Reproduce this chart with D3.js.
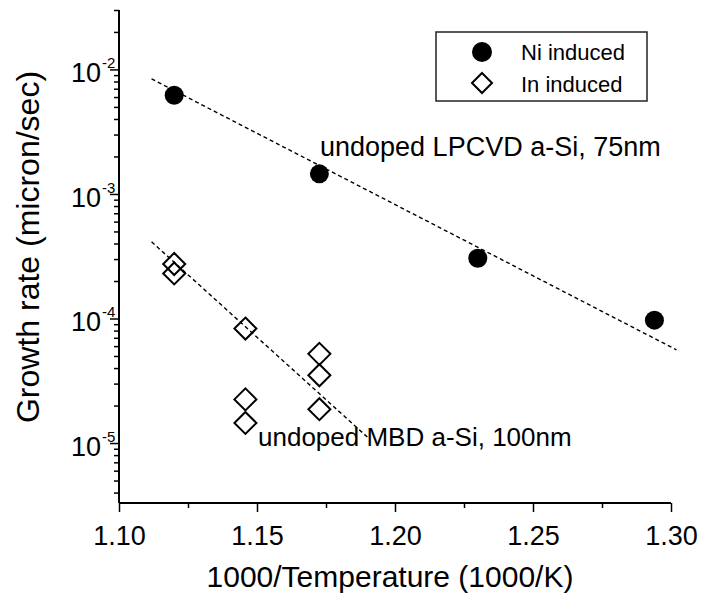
<!DOCTYPE html>
<html>
<head>
<meta charset="utf-8">
<script src="https://cdn.jsdelivr.net/npm/d3@7"></script>
<style>
  body { margin: 0; background: #fff; }
  svg text { font-family: "Liberation Sans", Arial, sans-serif; fill: #000; }
</style>
</head>
<body>
<div id="chartArea"></div>
<script>
// Ni induced (filled circles)
var ni_x = [1.12, 1.1726, 1.23, 1.294];
var ni_y = [6.2e-3, 1.45e-3, 3.05e-4, 9.7e-5];
// In induced (open diamonds)
var in_x = [1.12, 1.12, 1.1458, 1.1458, 1.1458, 1.1726, 1.1726, 1.1726];
var in_y = [2.74e-4, 2.3e-4, 8.3e-5, 2.24e-5, 1.45e-5, 5.2e-5, 3.5e-5, 1.87e-5];
// dashed fit lines, end points
var ni_fit_x = [1.1118, 1.302];
var ni_fit_y = [8.4e-3, 5.6e-5];
var in_fit_x = [1.1118, 1.1909];
var in_fit_y = [4.13e-4, 1.07e-5];

var x_ticks = [1.10, 1.15, 1.20, 1.25, 1.30];
var x_minor = [1.125, 1.175, 1.225, 1.275];
var y_exps = [-2, -3, -4, -5];
var legend_labels = ["Ni induced", "In induced"];
var notes = ["undoped LPCVD a-Si, 75nm", "undoped MBD a-Si, 100nm"];

var w = 703, h = 598;

var svg = d3.select("#chartArea").append("svg")
    .attr("width", w)
    .attr("height", h);

var x = d3.scaleLinear().domain([1.10, 1.30]).range([119, 671]);
var y = d3.scaleLog().domain([3.3e-6, 3e-2]).range([503, 10]);

// minor log ticks 2..9 in each decade
var y_minor = [];
[-6, -5, -4, -3, -2].forEach(function(e) {
  for (var k = 2; k < 10; k++) {
    var v = k * Math.pow(10, e);
    if (v >= 3.3e-6 && v <= 3e-2) y_minor.push(v);
  }
});

// axes
var xAxis = svg.append("g").attr("transform", "translate(0,503)");
xAxis.call(d3.axisBottom(x).tickValues(x_minor).tickSize(5).tickFormat(""));
xAxis.append("g").call(d3.axisBottom(x).tickValues(x_ticks).tickSize(9).tickPadding(14)
    .tickFormat(d3.format(".2f")));
xAxis.selectAll(".domain").attr("stroke-width", 2).attr("d", "M119,0H671");
xAxis.selectAll(".tick line").attr("stroke-width", 1.5);
xAxis.selectAll(".tick text").attr("font-size", 27).attr("font-family", null);

var yAxis = svg.append("g").attr("transform", "translate(119,0)");
yAxis.call(d3.axisLeft(y).tickValues(y_minor).tickSize(5).tickFormat(""));
yAxis.append("g").call(d3.axisLeft(y).tickValues(y_exps.map(function(e) { return Math.pow(10, e); }))
    .tickSize(9).tickFormat(""));
yAxis.selectAll(".domain").attr("stroke-width", 2).attr("d", "M0,10V503");
yAxis.selectAll(".tick line").attr("stroke-width", 1.5);

// y tick labels 10^n
svg.append("g").selectAll("text")
    .data(y_exps)
    .enter().append("text")
    .attr("x", 101)
    .attr("y", function(d) { return y(Math.pow(10, d)) + 13; })
    .attr("text-anchor", "end")
    .attr("font-size", 27)
    .text("10");
svg.append("g").selectAll("text")
    .data(y_exps)
    .enter().append("text")
    .attr("x", 102)
    .attr("y", function(d) { return y(Math.pow(10, d)) - 1; })
    .attr("font-size", 15)
    .text(function(d) { return "-" + Math.abs(d); });

// axis titles
svg.append("text")
    .attr("x", 390)
    .attr("y", 587)
    .attr("text-anchor", "middle")
    .attr("font-size", 30)
    .text("1000/Temperature (1000/K)");
svg.append("text")
    .attr("transform", "translate(39,247) rotate(-90)")
    .attr("text-anchor", "middle")
    .attr("font-size", 32)
    .text("Growth rate (micron/sec)");

// fit lines
var line = d3.line()
    .x(function(d) { return x(d[0]); })
    .y(function(d) { return y(d[1]); });

[[ni_fit_x, ni_fit_y], [in_fit_x, in_fit_y]].forEach(function(f) {
  svg.append("path")
      .datum(d3.zip(f[0], f[1]))
      .attr("d", line)
      .attr("fill", "none")
      .attr("stroke", "#000")
      .attr("stroke-width", 1.4)
      .attr("stroke-dasharray", "4,3");
});

// points
var diamond = "M0,-11L11,0L0,11L-11,0Z";

svg.append("g").selectAll("path")
    .data(d3.zip(in_x, in_y))
    .enter().append("path")
    .attr("d", diamond)
    .attr("transform", function(d) { return "translate(" + x(d[0]) + "," + y(d[1]) + ")"; })
    .attr("fill", "none")
    .attr("stroke", "#000")
    .attr("stroke-width", 2);

svg.append("g").selectAll("circle")
    .data(d3.zip(ni_x, ni_y))
    .enter().append("circle")
    .attr("cx", function(d) { return x(d[0]); })
    .attr("cy", function(d) { return y(d[1]); })
    .attr("r", 9.5)
    .attr("fill", "#000");

// notes
svg.append("text").attr("x", 320).attr("y", 156).attr("font-size", 27).text(notes[0]);
svg.append("text").attr("x", 258).attr("y", 446).attr("font-size", 26).text(notes[1]);

// legend
var lg = svg.append("g");
lg.append("rect")
    .attr("x", 436).attr("y", 32)
    .attr("width", 211).attr("height", 69)
    .attr("fill", "none")
    .attr("stroke", "#222")
    .attr("stroke-width", 1.5);
lg.append("circle").attr("cx", 482).attr("cy", 52).attr("r", 10).attr("fill", "#000");
lg.append("path").attr("d", "M0,-10L10,0L0,10L-10,0Z")
    .attr("transform", "translate(482,83)")
    .attr("fill", "none").attr("stroke", "#000").attr("stroke-width", 2);
lg.selectAll("text")
    .data(legend_labels)
    .enter().append("text")
    .attr("x", 521)
    .attr("y", function(d, i) { return 60 + i * 32; })
    .attr("font-size", 22)
    .text(function(d) { return d; });
</script>
</body>
</html>
